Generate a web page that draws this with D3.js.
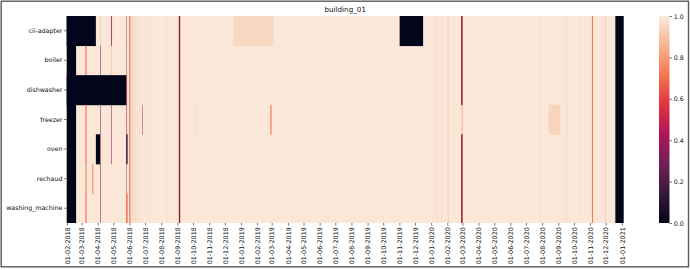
<!DOCTYPE html>
<html>
<head>
<meta charset="utf-8">
<script src="https://cdn.jsdelivr.net/npm/d3@7"></script>
<style>
  body { margin: 0; background: #fff; }
  svg { display: block; font-family: "DejaVu Sans", sans-serif; }
</style>
</head>
<body>
<div class="heatmap"></div>
<script>
// rows of the heatmap, top to bottom
const rowNames = ["cii-adapter", "boiler", "dishwasher", "freezer", "oven", "rechaud", "washing_machine"];

// daily columns
const dayStart = "2018-02-01";
const dayLast = "2021-01-04";
const baseValue = 0.99;

// [first day, last day, value] applied to every row, drawn in order
const allRows = [
    ["2018-02-01", "2018-02-18", 0],
    ["2018-06-01", "2018-06-01", 0.72],
    ["2018-06-02", "2018-06-02", 0.55],
    ["2018-06-04", "2018-06-04", 0.9],
    ["2018-06-07", "2018-06-08", 0.92],
    ["2018-06-12", "2018-06-12", 0.9],
    ["2018-06-16", "2018-06-16", 0.93],
    ["2018-06-20", "2018-06-20", 0.94],
    ["2018-07-10", "2018-07-10", 0.95],
    ["2018-07-24", "2018-07-24", 0.95],
    ["2018-08-12", "2018-08-12", 0.95],
    ["2018-09-04", "2018-09-06", 0.62],
    ["2018-09-05", "2018-09-05", 0.02],
    ["2018-10-22", "2018-10-22", 0.965],
    ["2018-11-15", "2018-11-15", 0.965],
    ["2019-01-20", "2019-01-20", 0.97],
    ["2019-04-10", "2019-04-10", 0.97],
    ["2019-06-18", "2019-06-18", 0.97],
    ["2019-08-05", "2019-08-05", 0.97],
    ["2019-10-01", "2019-10-01", 0.97],
    ["2020-01-12", "2020-01-12", 0.94],
    ["2020-01-21", "2020-01-21", 0.94],
    ["2020-02-02", "2020-02-03", 0.93],
    ["2020-04-20", "2020-04-20", 0.97],
    ["2020-06-07", "2020-06-07", 0.96],
    ["2020-07-28", "2020-07-28", 0.96],
    ["2020-09-16", "2020-09-17", 0.95],
    ["2020-10-13", "2020-10-13", 0.96],
    ["2020-11-05", "2020-11-06", 0.72],
    ["2020-11-30", "2020-11-30", 0.86],
    ["2020-12-20", "2021-01-04", 0]
];

// [first day, last day, value] per row, drawn in order
const ciiAdapter = [
    ["2018-02-01", "2018-03-28", 0],
    ["2018-04-06", "2018-04-06", 0.88],
    ["2018-04-27", "2018-04-27", 0.1],
    ["2018-04-28", "2018-04-28", 0.45],
    ["2018-05-26", "2018-05-26", 0.2],
    ["2018-05-27", "2018-05-27", 0.9],
    ["2018-12-18", "2019-03-04", 0.95],
    ["2019-11-02", "2019-12-16", 0],
    ["2020-02-28", "2020-03-01", 0.6],
    ["2020-02-29", "2020-02-29", 0.02]
];
const boiler = [
    ["2018-03-09", "2018-03-10", 0.68],
    ["2018-04-06", "2018-04-06", 0.3],
    ["2018-04-27", "2018-04-27", 0.85],
    ["2018-05-26", "2018-05-26", 0.2],
    ["2018-05-27", "2018-05-27", 0.9],
    ["2020-02-28", "2020-03-01", 0.6],
    ["2020-02-29", "2020-02-29", 0.02]
];
const dishwasher = [
    ["2018-02-01", "2018-05-26", 0],
    ["2018-05-27", "2018-05-27", 0.6],
    ["2020-02-28", "2020-03-01", 0.6],
    ["2020-02-29", "2020-02-29", 0.02]
];
const freezer = [
    ["2018-03-09", "2018-03-10", 0.68],
    ["2018-04-06", "2018-04-06", 0.3],
    ["2018-04-27", "2018-04-27", 0.35],
    ["2018-05-26", "2018-05-26", 0.35],
    ["2018-05-27", "2018-05-27", 0.75],
    ["2018-06-26", "2018-06-26", 0.5],
    ["2018-10-07", "2018-10-07", 0.92],
    ["2019-02-27", "2019-02-28", 0.7],
    ["2020-02-29", "2020-03-01", 0.86],
    ["2020-08-14", "2020-09-04", 0.94]
];
const oven = [
    ["2018-03-09", "2018-03-10", 0.68],
    ["2018-03-29", "2018-04-05", 0],
    ["2018-04-06", "2018-04-06", 0.3],
    ["2018-04-27", "2018-04-27", 0.35],
    ["2018-05-26", "2018-05-28", 0.2],
    ["2020-02-28", "2020-03-01", 0.6],
    ["2020-02-29", "2020-02-29", 0.02]
];
const rechaud = [
    ["2018-03-09", "2018-03-10", 0.74],
    ["2018-03-22", "2018-03-23", 0.76],
    ["2018-04-06", "2018-04-06", 0.3],
    ["2018-05-26", "2018-05-26", 0.2],
    ["2018-05-27", "2018-05-27", 0.9],
    ["2020-02-28", "2020-03-01", 0.6],
    ["2020-02-29", "2020-02-29", 0.02]
];
const washingMachine = [
    ["2018-03-09", "2018-03-10", 0.68],
    ["2018-04-06", "2018-04-06", 0.3],
    ["2018-05-26", "2018-05-28", 0.72],
    ["2020-02-28", "2020-03-01", 0.6],
    ["2020-02-29", "2020-02-29", 0.02]
];
const rowSpans = [ciiAdapter, boiler, dishwasher, freezer, oven, rechaud, washingMachine];

const tickLabels = [
    "01-02-2018", "01-03-2018", "01-04-2018", "01-05-2018", "01-06-2018", "01-07-2018",
    "01-08-2018", "01-09-2018", "01-10-2018", "01-11-2018", "01-12-2018", "01-01-2019",
    "01-02-2019", "01-03-2019", "01-04-2019", "01-05-2019", "01-06-2019", "01-07-2019",
    "01-08-2019", "01-09-2019", "01-10-2019", "01-11-2019", "01-12-2019", "01-01-2020",
    "01-02-2020", "01-03-2020", "01-04-2020", "01-05-2020", "01-06-2020", "01-07-2020",
    "01-08-2020", "01-09-2020", "01-10-2020", "01-11-2020", "01-12-2020", "01-01-2021"
];
const colorTicks = [0, 0.2, 0.4, 0.6, 0.8, 1.0];

// seaborn "rocket"
const rocketPos = [0, 1 / 7, 2 / 7, 3 / 7, 4 / 7, 5 / 7, 6 / 7, 1];
const rocketHex = ["#03051a", "#35193e", "#701f57", "#ad1759", "#e13342", "#f37651", "#f6b48f", "#faebdd"];

const width = 690;
const height = 270;
const margin = { left: 66.7, right: 623.7, top: 16, bottom: 223 };

const parseDay = d3.utcParse("%Y-%m-%d");
const parseTick = d3.utcParse("%d-%m-%Y");
const nextDay = s => d3.utcDay.offset(parseDay(s), 1);

const xScale = d3.scaleUtc()
    .domain([parseDay(dayStart), nextDay(dayLast)])
    .range([margin.left, margin.right]);

const yScale = d3.scaleBand()
    .domain(rowNames)
    .range([margin.top, margin.bottom]);

const color = d3.scaleLinear()
    .domain(rocketPos)
    .range(rocketHex)
    .interpolate(d3.interpolateRgb)
    .clamp(true);

const svg = d3.select('.heatmap')
    .append('svg')
    .attr('width', width)
    .attr('height', height);

svg.append('rect')
    .attr('x', 1.2).attr('y', 1.2)
    .attr('width', 687.3).attr('height', 265.6)
    .attr('fill', 'none')
    .attr('stroke', '#5a5a5a')
    .attr('stroke-width', 1.4);

const cells = svg.append('g');

function spanRect(y0, h, s) {
    const x0 = xScale(parseDay(s[0]));
    const x1 = xScale(nextDay(s[1]));
    cells.append('rect')
        .attr('x', x0)
        .attr('y', y0)
        .attr('width', x1 - x0)
        .attr('height', h)
        .attr('fill', color(s[2]));
}

// base value, then spans shared by all rows, then each row's own spans
const fullH = margin.bottom - margin.top;
spanRect(margin.top, fullH, [dayStart, dayLast, baseValue]);
allRows.forEach(s => spanRect(margin.top, fullH, s));
rowNames.forEach((r, i) => {
    const h = yScale.bandwidth() + (i < rowNames.length - 1 ? 0.5 : 0);
    rowSpans[i].forEach(s => spanRect(yScale(r), h, s));
});

// title
svg.append('text')
    .attr('x', (margin.left + margin.right) / 2)
    .attr('y', 11.5)
    .attr('text-anchor', 'middle')
    .attr('font-size', 7.2)
    .attr('fill', '#111')
    .text('building_01');

// y axis
const yAxis = svg.append('g')
    .attr('transform', `translate(${margin.left}, 0)`)
    .call(d3.axisLeft(yScale).tickSize(2.5).tickPadding(1.8));
yAxis.select('.domain').remove();
yAxis.selectAll('line').attr('stroke', '#333').attr('stroke-width', 0.7);
yAxis.selectAll('text').attr('font-size', 6.3).attr('fill', '#111')
    .attr('font-family', '"DejaVu Sans", sans-serif');

// x axis, ticks at the centre of the day cell
const halfDay = (xScale(parseDay("2018-02-02")) - xScale(parseDay("2018-02-01"))) / 2;
const tickDates = tickLabels.map(parseTick);
const xAxis = svg.append('g')
    .attr('transform', `translate(${halfDay}, ${margin.bottom})`)
    .call(d3.axisBottom(xScale).tickValues(tickDates).tickFormat((d, i) => tickLabels[i]).tickSize(2.5));
xAxis.select('.domain').remove();
xAxis.selectAll('line').attr('stroke', '#333').attr('stroke-width', 0.7);
xAxis.selectAll('text')
    .attr('font-size', 6.4)
    .attr('fill', '#111')
    .attr('font-family', '"DejaVu Sans", sans-serif')
    .attr('transform', 'rotate(-90)')
    .attr('text-anchor', 'end')
    .attr('x', -4.2)
    .attr('y', 0)
    .attr('dy', '0.35em');

// colorbar
const cb = { x: 659, w: 10.5 };
const cbScale = d3.scaleLinear().domain([0, 1]).range([margin.bottom, margin.top]);
const grad = svg.append('defs').append('linearGradient')
    .attr('id', 'rocket')
    .attr('x1', 0).attr('y1', 1).attr('x2', 0).attr('y2', 0);
grad.selectAll('stop')
    .data(rocketPos)
    .enter()
    .append('stop')
    .attr('offset', d => d)
    .attr('stop-color', (d, i) => rocketHex[i]);
svg.append('rect')
    .attr('x', cb.x)
    .attr('y', margin.top)
    .attr('width', cb.w)
    .attr('height', margin.bottom - margin.top)
    .attr('fill', 'url(#rocket)');

const cAxis = svg.append('g')
    .attr('transform', `translate(${cb.x + cb.w}, 0)`)
    .call(d3.axisRight(cbScale).tickValues(colorTicks).tickFormat(d3.format('.1f')).tickSize(2.5).tickPadding(1.8));
cAxis.select('.domain').remove();
cAxis.selectAll('line').attr('stroke', '#333').attr('stroke-width', 0.7);
cAxis.selectAll('text').attr('font-size', 6.3).attr('fill', '#111')
    .attr('font-family', '"DejaVu Sans", sans-serif');
</script>
</body>
</html>
